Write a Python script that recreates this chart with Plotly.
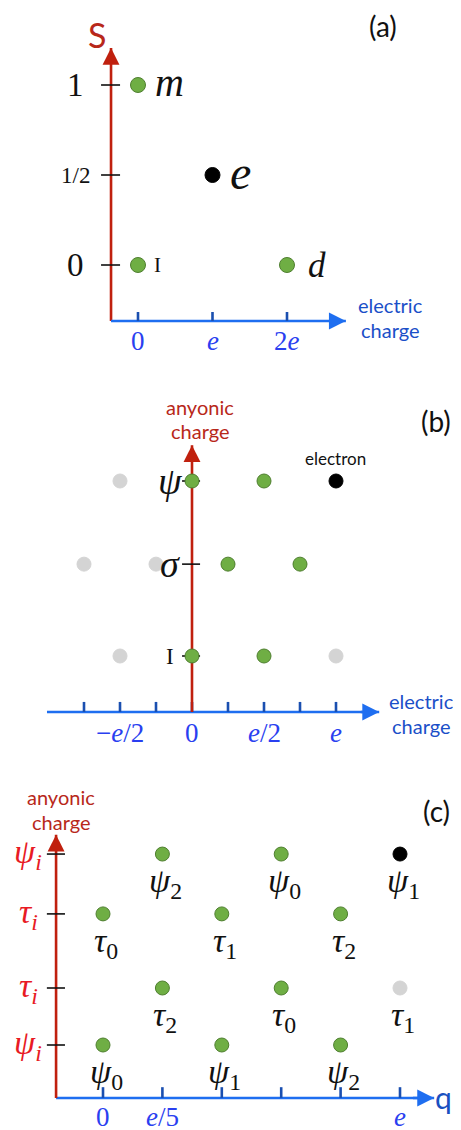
import plotly.graph_objects as go

# ---------------- data ----------------
# Panel (a): spin S vs electric charge (charge in units of e)
a_names = ["<i>m</i>", "I", "<i>e</i>", "<i>d</i>"]
a_charge = [0, 0, 1, 2]
a_spin = [1, 0, 0.5, 0]
a_kind = ["green", "green", "black", "green"]
a_xticks = [0, 1, 2]
a_xticklabels = ["0", "<i>e</i>", "2<i>e</i>"]
a_yticks = [1, 0.5, 0]
a_yticklabels = ["1", "1/2", "0"]

# Panel (b): anyonic charge vs electric charge
b_levels = [0, 1.05, 2]                       # I, sigma, psi
b_level_labels = ["I", "<i>σ</i>", "<i>ψ</i>"]
b_charge = [-0.5, 0, 0.5, 1, -0.75, -0.25, 0.25, 0.75, -0.5, 0, 0.5, 1]
b_level = [2, 2, 2, 2, 1, 1, 1, 1, 0, 0, 0, 0]
b_kind = ["gray", "green", "green", "black",
          "gray", "gray", "green", "green",
          "gray", "green", "green", "gray"]
b_xticks = [-0.75, -0.5, -0.25, 0, 0.25, 0.5, 0.75, 1]
b_xlabel_pos = [-0.5, 0, 0.5, 1]
b_xlabel_text = ["−<i>e</i>/2", "0", "<i>e</i>/2", "<i>e</i>"]

# Panel (c): anyonic charge vs q
c_levels = [0, 1, 2.3, 3.35]
c_level_labels = ["<i>ψ</i><sub><i>i</i></sub>", "<i>τ</i><sub><i>i</i></sub>",
                  "<i>τ</i><sub><i>i</i></sub>", "<i>ψ</i><sub><i>i</i></sub>"]
c_charge = [0, 0.4, 0.8, 0.2, 0.6, 1.0, 0, 0.4, 0.8, 0.2, 0.6, 1.0]
c_level = [0, 0, 0, 1, 1, 1, 2, 2, 2, 3, 3, 3]
c_names = ["ψ", "ψ", "ψ", "τ", "τ", "τ", "τ", "τ", "τ", "ψ", "ψ", "ψ"]
c_index = [0, 1, 2, 2, 0, 1, 0, 1, 2, 2, 0, 1]
c_kind = ["green", "green", "green", "green", "green", "gray",
          "green", "green", "green", "green", "green", "black"]
c_xticks = [0, 0.2, 0.4, 0.6, 0.8, 1.0]
c_xlabel_pos = [0, 0.2, 1.0]
c_xlabel_text = ["0", "<i>e</i>/5", "<i>e</i>"]

# ---------------- styles ----------------
SERIF = "Liberation Serif"
SANS = "Lato"
RED_AX = "#c0200e"
RED_TXT = "#b8281a"
RED_TICK = "#e81a24"
BLUE_AX = "#1e6ef0"
BLUE_TICK = "#1a4fb0"
BLUE_LBL = "#2a3ff0"
BLUE_TXT = "#1a4fc8"
FILL = {"green": "#6fae44", "gray": "#d4d4d4", "black": "#000000"}
EDGE = {"green": "#4f7f30", "gray": "#d4d4d4", "black": "#000000"}

OFF = 8                      # page body margin
PW, PH = 461, 1130           # page size
W, H = PW - OFF, PH - OFF    # figure size
fig = go.Figure()
ann = []
shapes = []


def dots(xs, ys, kinds, ax, size=14):
    fig.add_trace(go.Scatter(
        x=xs, y=ys, mode="markers", xaxis=ax[0], yaxis=ax[1],
        marker=dict(size=size, color=[FILL[k] for k in kinds],
                    line=dict(color=[EDGE[k] for k in kinds], width=1)),
        hoverinfo="skip", showlegend=False))


def line(xref, yref, x0, y0, x1, y1, color, width, layer="below"):
    shapes.append(dict(type="line", xref=xref, yref=yref, x0=x0, y0=y0,
                       x1=x1, y1=y1, line=dict(color=color, width=width),
                       layer=layer))


def arrow(xref, yref, x0, y0, x1, y1, color):
    # shaft below the markers, short arrow for the head on top
    line(xref, yref, x0, y0, x1, y1, color, 2.6)
    f = 0.06
    ann.append(dict(xref=xref, yref=yref, axref=xref, ayref=yref,
                    x=x1, y=y1, ax=x1 - f * (x1 - x0), ay=y1 - f * (y1 - y0),
                    text="", showarrow=True,
                    arrowhead=2, arrowsize=1.3, arrowwidth=2.6,
                    arrowcolor=color, standoff=0, startstandoff=0))


def text(xref, yref, x, y, t, size, color, family, xshift=0, yshift=0,
         xanchor="center"):
    ann.append(dict(xref=xref, yref=yref, x=x, y=y, text=t, showarrow=False,
                    xanchor=xanchor, yanchor="middle", xshift=xshift,
                    yshift=yshift, font=dict(size=size, color=color,
                                             family=family)))


def paper_text(px, py, t, size, color, family):
    ann.append(dict(xref="paper", yref="paper", x=(px - OFF) / W,
                    y=1 - (py - OFF) / H,
                    text=t, showarrow=False, xanchor="center",
                    yanchor="middle",
                    font=dict(size=size, color=color, family=family)))


# ---------- panel (a) ----------
A_X0, A_Y0 = -0.362, -0.311          # axis origin
arrow("x", "y", A_X0, A_Y0, A_X0, 1.206, RED_AX)
arrow("x", "y", A_X0, A_Y0, 2.79, A_Y0, BLUE_AX)
for v, lab in zip(a_yticks, a_yticklabels):
    line("x", "y", A_X0 - 0.134, v, A_X0 + 0.121, v, "#111111", 1.6)
    text("x", "y", A_X0, v, lab, 33 if lab != "1/2" else 23, "#111111",
         SERIF, xshift=-36)
for v, lab in zip(a_xticks, a_xticklabels):
    line("x", "y", v, A_Y0 + 0.05, v, A_Y0, BLUE_TICK, 2.6)
    text("x", "y", v, A_Y0, lab, 27, BLUE_LBL, SERIF, yshift=-20)
dots(a_charge, a_spin, a_kind, ("x", "y"), size=15)
a_sizes = {"<i>m</i>": 40, "I": 21, "<i>e</i>": 48, "<i>d</i>": 35}
a_dx = {"<i>m</i>": 15, "I": 14, "<i>e</i>": 15, "<i>d</i>": 19}
for q, s, n in zip(a_charge, a_spin, a_names):
    text("x", "y", q, s, n, a_sizes[n], "#111111", SERIF, xshift=a_dx[n],
         yshift=3 if n in ("<i>m</i>", "<i>e</i>") else 0, xanchor="left")
paper_text(97, 34, "S", 34, RED_TXT, SANS)
paper_text(383, 26, "(a)", 28, "#111111", SANS)
paper_text(390, 305, "electric", 20, BLUE_TXT, SANS)
paper_text(390, 330, "charge", 20, BLUE_TXT, SANS)

# ---------- panel (b) ----------
B_Y0 = -0.64
arrow("x2", "y2", -1.007, B_Y0, 1.30, B_Y0, BLUE_AX)
for v in b_xticks:
    line("x2", "y2", v, B_Y0 + 0.115, v, B_Y0, BLUE_TICK, 2.6)
for v, lab in zip(b_xlabel_pos, b_xlabel_text):
    text("x2", "y2", v, B_Y0, lab, 27, BLUE_LBL, SERIF, yshift=-21)
arrow("x2", "y2", 0, B_Y0, 0, 2.41, RED_AX)
for v, lab in zip(b_levels, b_level_labels):
    line("x2", "y2", -0.069, v, 0.056, v, "#111111", 1.6)
    text("x2", "y2", 0, v, lab, 23 if lab == "I" else 38, "#111111", SERIF,
         xshift=-22)
dots(b_charge, [b_levels[i] for i in b_level], b_kind, ("x2", "y2"))
paper_text(200, 407, "anyonic", 20, RED_TXT, SANS)
paper_text(200, 431, "charge", 20, RED_TXT, SANS)
paper_text(436, 421, "(b)", 28, "#111111", SANS)
paper_text(335, 458, "electron", 17, "#111111", SANS)
paper_text(421, 701, "electric", 20, BLUE_TXT, SANS)
paper_text(421, 726, "charge", 20, BLUE_TXT, SANS)

# ---------- panel (c) ----------
C_X0, C_Y0 = -0.158, -0.930
arrow("x3", "y3", C_X0, C_Y0, 1.115, C_Y0, BLUE_AX)
arrow("x3", "y3", C_X0, C_Y0, C_X0, 3.69, RED_AX)
for v in c_xticks:
    line("x3", "y3", v, C_Y0 + 0.19, v, C_Y0, BLUE_TICK, 2.6)
for v, lab in zip(c_xlabel_pos, c_xlabel_text):
    text("x3", "y3", v, C_Y0, lab, 27, BLUE_LBL, SERIF, yshift=-19)
for v, lab in zip(c_levels, c_level_labels):
    line("x3", "y3", C_X0 - 0.031, v, C_X0 + 0.03, v, "#111111", 1.6)
    text("x3", "y3", C_X0, v, lab, 34, RED_TICK, SERIF, xshift=-28)
dots(c_charge, [c_levels[i] for i in c_level], c_kind, ("x3", "y3"))
for q, l, n, i in zip(c_charge, c_level, c_names, c_index):
    text("x3", "y3", q, c_levels[l],
         "<i>%s</i><sub>%d</sub>" % (n, i), 34, "#111111", SERIF,
         xshift=3, yshift=-29)
paper_text(61, 797, "anyonic", 20, RED_TXT, SANS)
paper_text(61, 822, "charge", 20, RED_TXT, SANS)
paper_text(436, 811, "(c)", 28, "#111111", SANS)
paper_text(443, 1097, "q", 30, "#1a50c0", SANS)


def ax_range(p_lo, p_hi, origin_px, scale, flip=False):
    # p_* and origin_px are page pixels; figure pixels are page - OFF
    if flip:
        return [(origin_px - p_hi) / scale, (origin_px - p_lo) / scale]
    return [(p_lo - origin_px) / scale, (p_hi - origin_px) / scale]


def dom(p_top, p_bot):
    return [1 - (p_bot - OFF) / H, 1 - (p_top - OFF) / H]


hidden = dict(visible=False, fixedrange=True)
fig.update_layout(
    width=W, height=H, margin=dict(l=0, r=0, t=0, b=0),
    paper_bgcolor="white", plot_bgcolor="rgba(0,0,0,0)", showlegend=False,
    xaxis=dict(domain=[0, 1], range=ax_range(OFF, PW, 138, 74.5), anchor="y",
               **hidden),
    yaxis=dict(domain=dom(OFF, 350), range=ax_range(OFF, 350, 265, 180, True),
               anchor="x", **hidden),
    xaxis2=dict(domain=[0, 1], range=ax_range(OFF, PW, 192, 144), anchor="y2",
                **hidden),
    yaxis2=dict(domain=dom(350, 750),
                range=ax_range(350, 750, 656, 87.5, True), anchor="x2",
                **hidden),
    xaxis3=dict(domain=[0, 1], range=ax_range(OFF, PW, 103, 297), anchor="y3",
                **hidden),
    yaxis3=dict(domain=dom(750, PH),
                range=ax_range(750, PH, 1045, 57, True), anchor="x3",
                **hidden),
    annotations=ann, shapes=shapes,
)
fig.write_html("out.html")
